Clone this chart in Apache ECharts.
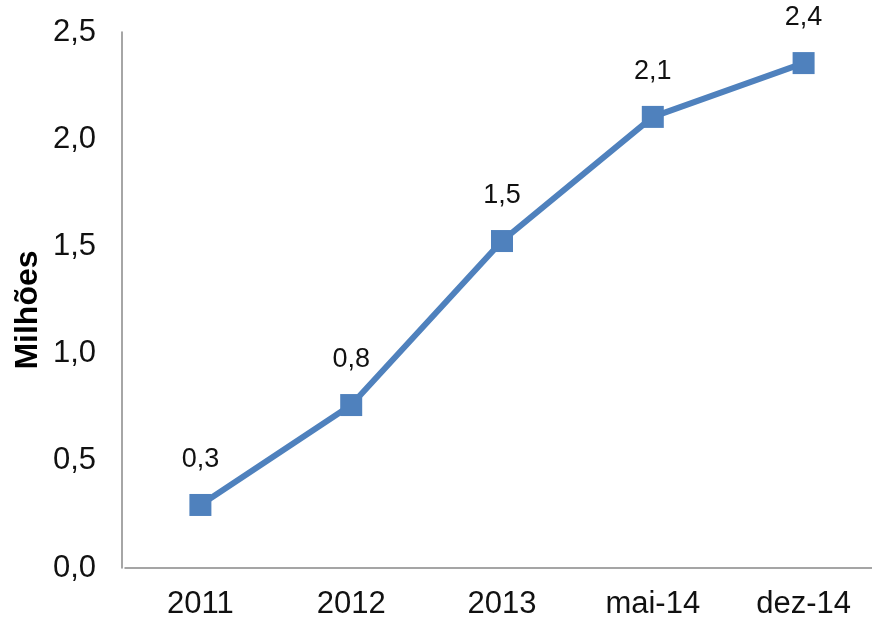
<!DOCTYPE html>
<html>
<head>
<meta charset="utf-8">
<script src="https://cdn.jsdelivr.net/npm/echarts@6/dist/echarts.min.js"></script>
<style>
    html, body { margin: 0; padding: 0; background: #fff; }
    #chart { width: 872px; height: 620px; }
</style>
</head>
<body>
<div id="chart"></div>
<script>
var categories = ["2011", "2012", "2013", "mai-14", "dez-14"];
var milhoes = [0.294, 0.76, 1.525, 2.104, 2.355];
var yTicks = { min: 0, max: 2.5, step: 0.5 };

// virgula decimal, 1 casa
function fmt(v) {
    return Number(v).toFixed(1).replace(".", ",");
}

var chart = echarts.init(document.getElementById("chart"));

var option = {
    backgroundColor: "#ffffff",
    animation: false,
    grid: {
        left: 125,
        width: 754,
        top: 32,
        bottom: 52,
        outerBoundsMode: "none"
    },
    xAxis: {
        type: "category",
        data: categories,
        axisLine: { lineStyle: { color: "#888888", width: 1.5 } },
        axisTick: { show: false },
        axisLabel: {
            margin: 21,
            fontFamily: "Liberation Sans",
            fontSize: 31,
            color: "#111111"
        }
    },
    yAxis: {
        type: "value",
        min: yTicks.min,
        max: yTicks.max,
        interval: yTicks.step,
        offset: 3,
        name: "Milhões",
        nameLocation: "middle",
        nameGap: 78,
        nameMoveOverlap: false,
        nameTextStyle: {
            fontFamily: "Liberation Sans",
            fontSize: 32,
            fontWeight: "bold",
            color: "#000000",
            padding: [0, 20, 0, 0]
        },
        axisLine: { show: true, lineStyle: { color: "#888888", width: 1.5 } },
        axisTick: { show: false },
        splitLine: { show: false },
        axisLabel: {
            margin: 26,
            fontFamily: "Liberation Sans",
            fontSize: 31,
            color: "#111111",
            formatter: fmt
        }
    },
    series: [
        {
            type: "line",
            data: milhoes,
            symbol: "rect",
            symbolSize: 22,
            lineStyle: { color: "#4F81BD", width: 6 },
            itemStyle: { color: "#4F81BD" },
            label: {
                show: true,
                position: "top",
                distance: 21,
                fontFamily: "Liberation Sans",
                fontSize: 27,
                color: "#111111",
                formatter: function (p) { return fmt(p.value); }
            }
        }
    ]
};

chart.setOption(option);
</script>
</body>
</html>
